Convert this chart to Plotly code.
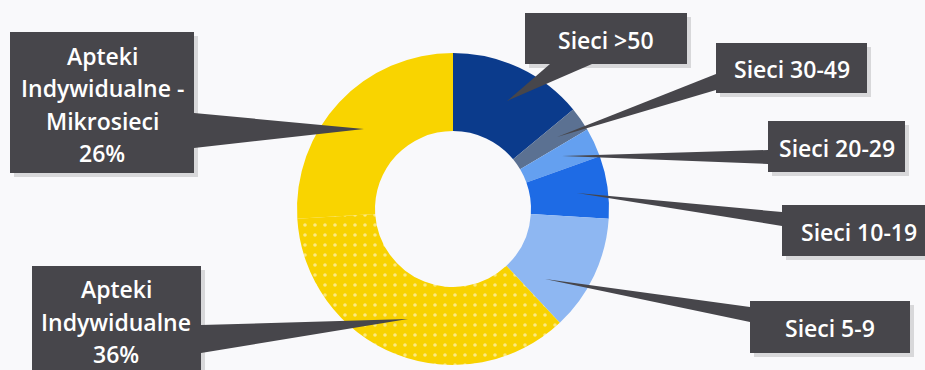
import plotly.graph_objects as go

# ---- data ----
labels = ["Sieci >50", "Sieci 30-49", "Sieci 20-29", "Sieci 10-19", "Sieci 5-9",
          "Apteki Indywidualne", "Apteki Indywidualne - Mikrosieci"]
values = [14, 2.5, 3, 6.5, 12, 36, 26]
callout_text = [["Sieci >50"], ["Sieci 30-49"], ["Sieci 20-29"], ["Sieci 10-19"], ["Sieci 5-9"],
                ["Apteki", "Indywidualne", "36%"],
                ["Apteki", "Indywidualne -", "Mikrosieci", "26%"]]

# ---- style ----
colors = ["#0B3B8C", "#5B7192", "#64A0F0", "#1E6BE5", "#8EB7F2", "#F8D200", "#F9D400"]
shapes_pat = ["", "", "", "", "", ".", ""]
W, H = 925, 370
BG = "#F9F9FB"
BOX = "#47464B"
FONT = "Open Sans"
FS = 23

# callout layout in pixels: box (x0,y0,x1,y1), wedge base points, tip, line centres
callouts = [
    dict(box=(525, 13, 687, 64), base=[(550, 64), (592, 64)], tip=(507, 101), lines=[40]),
    dict(box=(716, 43, 867, 93), base=[(716, 74), (716, 90)], tip=(557, 137), lines=[69]),
    dict(box=(768, 121, 905, 172), base=[(768, 150), (768, 164)], tip=(562, 156), lines=[148]),
    dict(box=(782, 205, 935, 256), base=[(782, 212), (782, 226)], tip=(577, 193), lines=[232]),
    dict(box=(750, 301, 910, 353), base=[(750, 307), (750, 322)], tip=(545, 279), lines=[328]),
    dict(box=(32, 266, 201, 380), base=[(201, 325), (201, 353)], tip=(408, 319), lines=[289, 322, 354]),
    dict(box=(10, 32, 194, 173), base=[(194, 113), (194, 148)], tip=(364, 129), lines=[56, 88, 121, 153]),
]

cx, cy, R = 453, 209, 156


def px(x):
    return x / W


def py(y):
    return 1 - y / H


fig = go.Figure()
fig.add_trace(go.Pie(
    labels=labels, values=values, sort=False, direction="clockwise", rotation=0,
    hole=0.5, textinfo="none", hoverinfo="label+percent",
    marker=dict(colors=colors, line=dict(width=0),
                pattern=dict(shape=shapes_pat, fgcolor="white", bgcolor=colors,
                             size=10, solidity=0.1, fillmode="overlay")),
    domain=dict(x=[px(cx - R), px(cx + R)], y=[py(cy + R), py(cy - R)]),
    showlegend=False,
))

shapes = []
annotations = []
for c, txt in zip(callouts, callout_text):
    x0, y0, x1, y1 = c["box"]
    # shadow
    shapes.append(dict(type="rect", xref="paper", yref="paper",
                       x0=px(x0 + 4), x1=px(x1 + 4), y0=py(y1 + 4), y1=py(y0 + 4),
                       fillcolor="rgba(0,0,0,0.13)", line=dict(width=0), layer="above"))
    shapes.append(dict(type="rect", xref="paper", yref="paper",
                       x0=px(x0), x1=px(x1), y0=py(y1), y1=py(y0),
                       fillcolor=BOX, line=dict(width=0), layer="above"))
    (bx0, by0), (bx1, by1) = c["base"]
    tx, ty = c["tip"]
    path = f"M {px(bx0)},{py(by0)} L {px(tx)},{py(ty)} L {px(bx1)},{py(by1)} Z"
    shapes.append(dict(type="path", xref="paper", yref="paper", path=path,
                       fillcolor=BOX, line=dict(width=0), layer="above"))
    for t, ly in zip(txt, c["lines"]):
        annotations.append(dict(x=px((x0 + x1) / 2), y=py(ly), xref="paper", yref="paper",
                                text=t, showarrow=False,
                                xanchor="center", yanchor="middle",
                                font=dict(family=FONT, size=FS, color="white", weight=600)))

fig.update_layout(
    width=W, height=H, margin=dict(l=0, r=0, t=0, b=0),
    paper_bgcolor=BG, plot_bgcolor=BG,
    shapes=shapes, annotations=annotations,
)

fig.write_html("out.html")
